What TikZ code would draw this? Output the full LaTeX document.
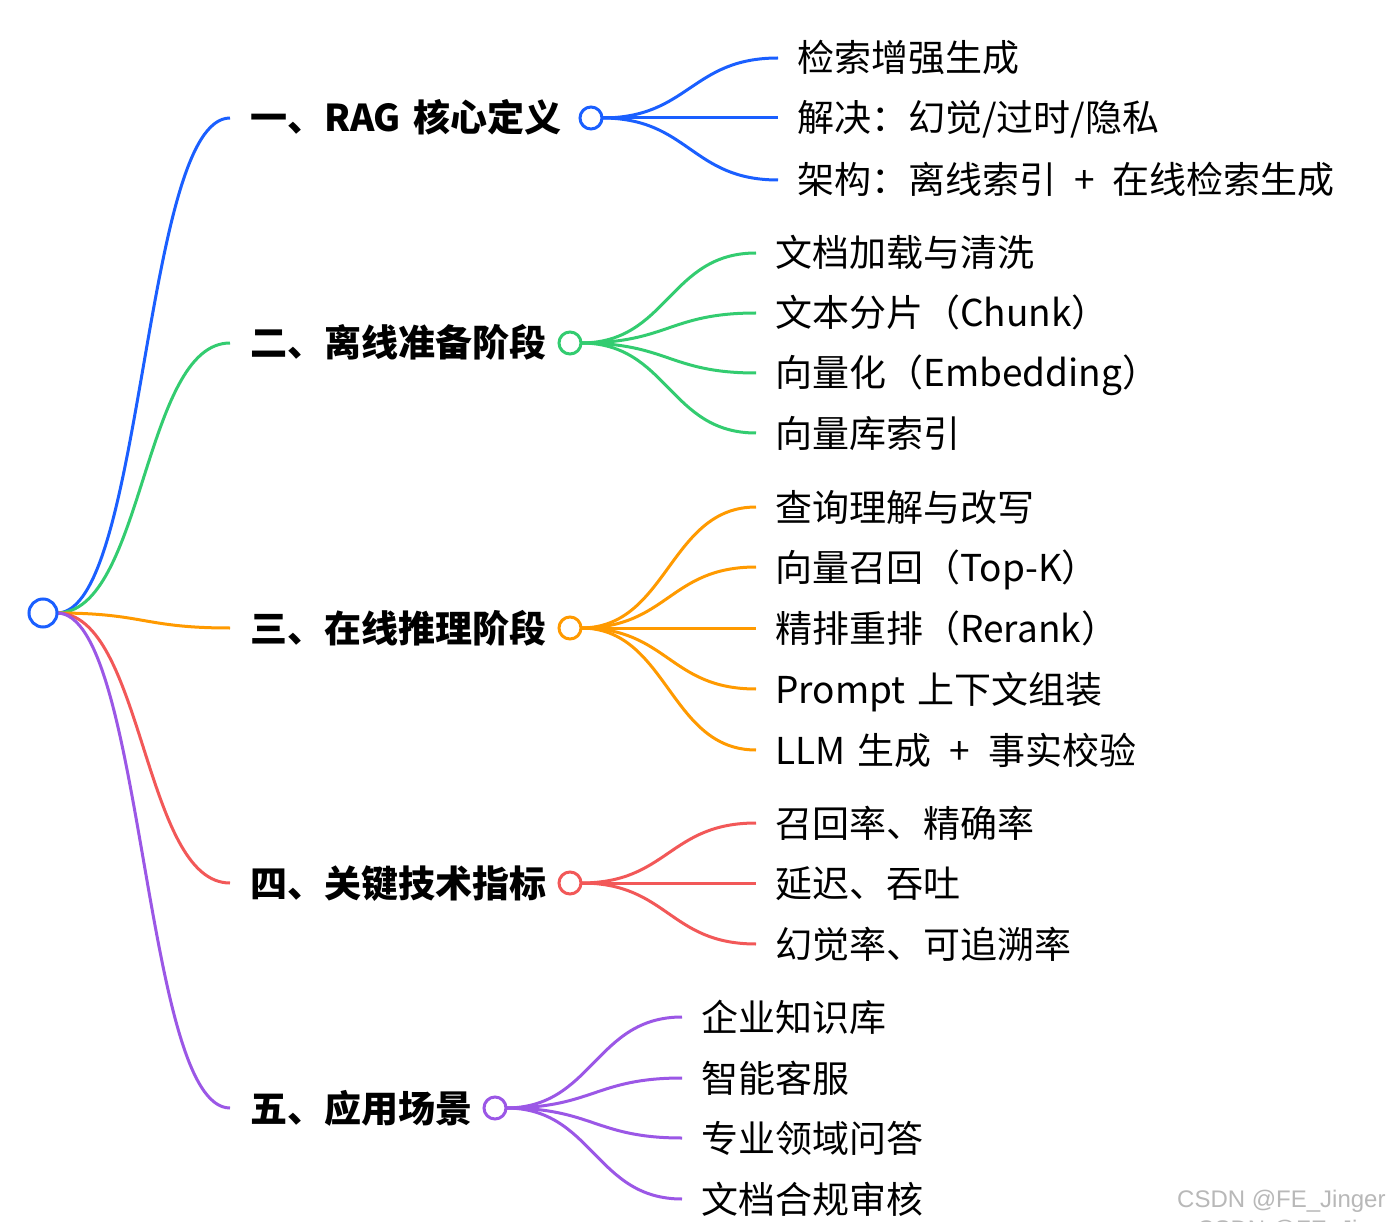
\documentclass[tikz,border=0pt]{standalone}
\usepackage{fontspec}
\setmainfont{Noto Sans CJK SC}
\newfontfamily\wmfont{Liberation Sans}
\definecolor{cblue}{HTML}{1A5FFF}
\definecolor{cgreen}{HTML}{33CC70}
\definecolor{corange}{HTML}{FF9A00}
\definecolor{cred}{HTML}{F25858}
\definecolor{cpurple}{HTML}{9B57E6}
\definecolor{wmgray}{HTML}{B8B8B8}
\newcommand{\plusgap}{\hspace{18pt}+\hspace{18pt}}
\tikzset{
  conn/.style={line width=3pt},
  br/.style={to path={.. controls +(87,0) and +(-87,0) .. (\tikztotarget)}},
  lbl/.style={anchor=west, inner xsep=20pt, inner ysep=0pt, text height=30pt, text depth=2pt,
              font=\fontsize{37}{40}\selectfont\bfseries},
  leaf/.style={anchor=west, inner xsep=19pt, inner ysep=0pt, text height=30pt, text depth=2pt,
              font=\fontsize{37}{40}\selectfont},
  hub/.style={circle, draw, line width=3pt, fill=white, minimum size=22pt, inner sep=0pt},
  rootc/.style={circle, draw=cblue, line width=3pt, fill=white, minimum size=28pt, inner sep=0pt},
  wm/.style={font=\wmfont\fontsize{24}{26}\selectfont, text=wmgray, inner sep=0pt}
}
\begin{document}
\begin{tikzpicture}[x=1pt,y=-1pt]
\useasboundingbox (0,0) rectangle (1390,1222);
\fill[white] (0,0) rectangle (1390,1222);
\clip (0,0) rectangle (1390,1222);

% level-1 labels
\node[lbl] (l1) at (230,118) {一、RAG\hspace{4pt} 核心定义};
\node[lbl] (l2) at (230,343) {二、离线准备阶段};
\node[lbl] (l3) at (230,628) {三、在线推理阶段};
\node[lbl] (l4) at (230,883) {四、关键技术指标};
\node[lbl] (l5) at (230,1108) {五、应用场景};

% leaves
\node[leaf] (a1) at (778,58)  {检索增强生成};
\node[leaf] (a2) at (778,118) {解决：幻觉/过时/隐私};
\node[leaf] (a3) at (778,180) {架构：离线索引\plusgap 在线检索生成};

\node[leaf] (b1) at (756,253) {文档加载与清洗};
\node[leaf] (b2) at (756,313) {文本分片（Chunk）};
\node[leaf] (b3) at (756,373) {向量化（Embedding）};
\node[leaf] (b4) at (756,433) {向量库索引};

\node[leaf] (d1) at (756,507) {查询理解与改写};
\node[leaf] (d2) at (756,567) {向量召回（Top-K）};
\node[leaf] (d3) at (756,628) {精排重排（Rerank）};
\node[leaf] (d4) at (756,689) {Prompt\hspace{4pt} 上下文组装};
\node[leaf] (d5) at (756,750) {LLM\hspace{4pt} 生成\plusgap 事实校验};

\node[leaf] (e1) at (756,823) {召回率、精确率};
\node[leaf] (e2) at (756,883) {延迟、吞吐};
\node[leaf] (e3) at (756,944) {幻觉率、可追溯率};

\node[leaf] (f1) at (682,1017) {企业知识库};
\node[leaf] (f2) at (682,1078) {智能客服};
\node[leaf] (f3) at (682,1138) {专业领域问答};
\node[leaf] (f4) at (682,1199) {文档合规审核};

% hub positions
\coordinate (p0) at (43,613);
\coordinate (p1) at (591,118);
\coordinate (p2) at (570,343);
\coordinate (p3) at (570,628);
\coordinate (p4) at (570,883);
\coordinate (p5) at (495,1108);

% connector start points
\coordinate (r0) at (57,613);
\coordinate (s1) at (602,118);
\coordinate (s2) at (581,343);
\coordinate (s3) at (581,628);
\coordinate (s4) at (581,883);
\coordinate (s5) at (506,1108);

\draw[conn, cblue]   (r0) to[br] (l1.west);
\draw[conn, cgreen]  (r0) to[br] (l2.west);
\draw[conn, corange] (r0) to[br] (l3.west);
\draw[conn, cred]    (r0) to[br] (l4.west);
\draw[conn, cpurple] (r0) to[br] (l5.west);

\foreach \t in {a1,a2,a3} \draw[conn, cblue] (s1) to[br] (\t.west);
\foreach \t in {b1,b2,b3,b4} \draw[conn, cgreen] (s2) to[br] (\t.west);
\foreach \t in {d1,d2,d3,d4,d5} \draw[conn, corange] (s3) to[br] (\t.west);
\foreach \t in {e1,e2,e3} \draw[conn, cred] (s4) to[br] (\t.west);
\foreach \t in {f1,f2,f3,f4} \draw[conn, cpurple] (s5) to[br] (\t.west);

% circles
\node[rootc] (root) at (p0) {};
\node[hub, draw=cblue]   (c1) at (p1) {};
\node[hub, draw=cgreen]  (c2) at (p2) {};
\node[hub, draw=corange] (c3) at (p3) {};
\node[hub, draw=cred]    (c4) at (p4) {};
\node[hub, draw=cpurple] (c5) at (p5) {};

% watermark
\node[wm, anchor=base west] (wm1) at (1177,1207) {CSDN @FE\_Jinger};
\node[wm, anchor=base west] (wm2) at (1197,1237) {CSDN @FE\_Jinger};
\end{tikzpicture}
\end{document}
